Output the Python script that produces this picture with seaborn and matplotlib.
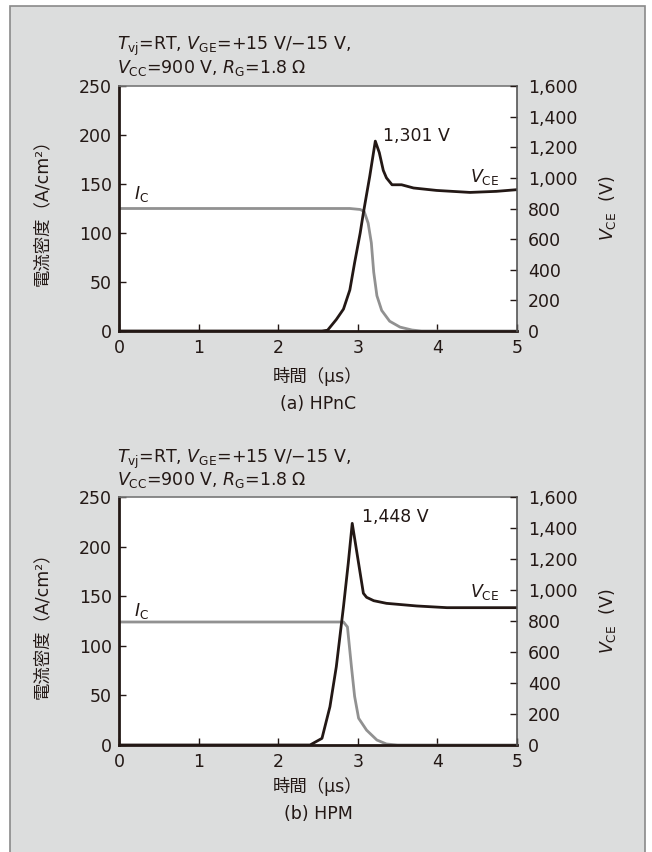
import matplotlib
matplotlib.use("Agg")
import matplotlib.pyplot as plt
import matplotlib.patches as patches
import seaborn as sns

sns.set_style('ticks')
plt.rcParams['font.family'] = ['DejaVu Sans', 'Noto Sans CJK JP']
plt.rcParams['mathtext.fontset'] = 'custom'
plt.rcParams['mathtext.rm'] = 'DejaVu Sans'
plt.rcParams['mathtext.it'] = 'DejaVu Sans:italic'

# (a) HPnC
t_ic_a = [0, 2.90, 3.03, 3.08, 3.13, 3.17, 3.20, 3.24, 3.30, 3.40, 3.53, 3.68, 3.80, 5.0]
ic_a = [125, 125, 124, 122, 110, 90, 60, 36, 21, 10, 4, 1, 0, 0]
t_vce_a = [0, 2.55, 2.62, 2.73, 2.82, 2.90, 2.96, 3.03, 3.07, 3.15, 3.22, 3.27, 3.32, 3.36,
           3.43, 3.55, 3.70, 3.99, 4.41, 4.74, 5.0]
vce_a = [0, 0, 5, 75, 143, 268, 446, 640, 771, 1010, 1240, 1165, 1049, 1000,
         955, 955, 934, 918, 905, 912, 923]

# (b) HPM
t_ic_b = [0, 2.82, 2.87, 2.92, 2.96, 3.01, 3.11, 3.24, 3.36, 3.50, 5.0]
ic_b = [124, 124, 119, 79, 49, 27, 15, 5, 1, 0, 0]
t_vce_b = [0, 2.40, 2.55, 2.65, 2.73, 2.82, 2.88, 2.93, 3.07, 3.11, 3.20, 3.36, 3.74, 4.12, 5.0]
vce_b = [0, 0, 43, 247, 505, 892, 1172, 1430, 979, 953, 931, 914, 897, 886, 886]

x_ticks = [0, 1, 2, 3, 4, 5]
y_ticks = [0, 50, 100, 150, 200, 250]
v_ticks = [0, 200, 400, 600, 800, 1000, 1200, 1400, 1600]
v_labels = ['0', '200', '400', '600', '800', '1,000', '1,200', '1,400', '1,600']

header1 = r'$\mathit{T}_{\rm vj}$=RT, $\mathit{V}_{\rm GE}$=+15 V/−15 V,'
header2 = r'$\mathit{V}_{\rm CC}$=900 V, $\mathit{R}_{\rm G}$=1.8 Ω'

dark = '#231815'
gray_line = '#919191'
W, H = 652, 852

fig = plt.figure(figsize=(6.52, 8.52), dpi=100)
fig.patch.set_facecolor('white')
fig.add_artist(patches.Rectangle((10 / W, -0.01), 635 / W, 1 - 6 / H + 0.01,
                                 transform=fig.transFigure, facecolor='#dcdddd',
                                 edgecolor='#8a8a8a', lw=1.2, zorder=0))

panels = [
    dict(top=86, bot=331, t_ic=t_ic_a, ic=ic_a, t_v=t_vce_a, v=vce_a, peak='1,301 V',
         peak_xy=(383, 136), vce_xy=(470, 177), ic_xy=(134, 194), head_y=(46, 68),
         xl_y=377, cap_y=404, cap='(a) HPnC'),
    dict(top=497, bot=745, t_ic=t_ic_b, ic=ic_b, t_v=t_vce_b, v=vce_b, peak='1,448 V',
         peak_xy=(362, 517), vce_xy=(470, 592), ic_xy=(134, 611), head_y=(459, 480),
         xl_y=786, cap_y=814, cap='(b) HPM'),
]

fs = 12.5
for p in panels:
    ax = fig.add_axes([119 / W, 1 - p['bot'] / H, 398 / W, (p['bot'] - p['top']) / H])
    ax2 = ax.twinx()
    sns.lineplot(x=p['t_ic'], y=p['ic'], ax=ax, color=gray_line, lw=2.0)
    sns.lineplot(x=p['t_v'], y=p['v'], ax=ax2, color=dark, lw=2.0)
    ax.set_xlim(0, 5)
    ax.set_ylim(0, 250)
    ax2.set_ylim(0, 1600)
    ax.set_xticks(x_ticks)
    ax.set_yticks(y_ticks)
    ax2.set_yticks(v_ticks)
    ax2.set_yticklabels(v_labels)
    ax.set_facecolor('white')
    for a in (ax, ax2):
        for s in a.spines.values():
            s.set_visible(False)
    ax.spines['left'].set_visible(True)
    ax.spines['bottom'].set_visible(True)
    ax.spines['top'].set_visible(True)
    ax2.spines['right'].set_visible(True)
    ax.spines['left'].set_linewidth(2.0)
    ax.spines['bottom'].set_linewidth(2.0)
    ax.spines['left'].set_color(dark)
    ax.spines['bottom'].set_color(dark)
    ax.spines['top'].set_color('#777777')
    ax.spines['top'].set_linewidth(1.2)
    ax2.spines['right'].set_color('#555555')
    ax2.spines['right'].set_linewidth(1.2)
    ax.tick_params(direction='in', length=5, width=1, colors=dark, labelsize=fs, pad=5)
    ax2.tick_params(direction='in', length=5, width=1, colors=dark, labelsize=fs, pad=8)
    ax.tick_params(axis='x', pad=6)
    ax.set_xlabel('')
    ax.set_ylabel('')
    ax2.set_ylabel('')

    fig.text(p['peak_xy'][0] / W, 1 - p['peak_xy'][1] / H, p['peak'], fontsize=fs,
             color=dark, ha='left', va='center')
    fig.text(p['vce_xy'][0] / W, 1 - p['vce_xy'][1] / H, r'$\mathit{V}_{\rm CE}$',
             fontsize=fs, color=dark, ha='left', va='center')
    fig.text(p['ic_xy'][0] / W, 1 - p['ic_xy'][1] / H, r'$\mathit{I}_{\rm C}$',
             fontsize=fs, color=dark, ha='left', va='center')
    fig.text(117 / W, 1 - p['head_y'][0] / H, header1, fontsize=fs, color=dark,
             ha='left', va='center')
    fig.text(117 / W, 1 - p['head_y'][1] / H, header2, fontsize=fs, color=dark,
             ha='left', va='center')
    mid = 1 - (p['top'] + p['bot']) / 2 / H
    fig.text(42 / W, mid, '電流密度（A/cm²）', fontsize=fs, color=dark, rotation=90,
             ha='center', va='center')
    fig.text(608 / W, mid, r'$\mathit{V}_{\rm CE}$  (V)', fontsize=fs, color=dark,
             rotation=90, ha='center', va='center')
    fig.text(318 / W, 1 - p['xl_y'] / H, '時間（µs）', fontsize=fs, color=dark,
             ha='center', va='center')
    fig.text(318 / W, 1 - p['cap_y'] / H, p['cap'], fontsize=fs, color=dark,
             ha='center', va='center')

fig.savefig('out.png', dpi=100, facecolor=fig.get_facecolor())
